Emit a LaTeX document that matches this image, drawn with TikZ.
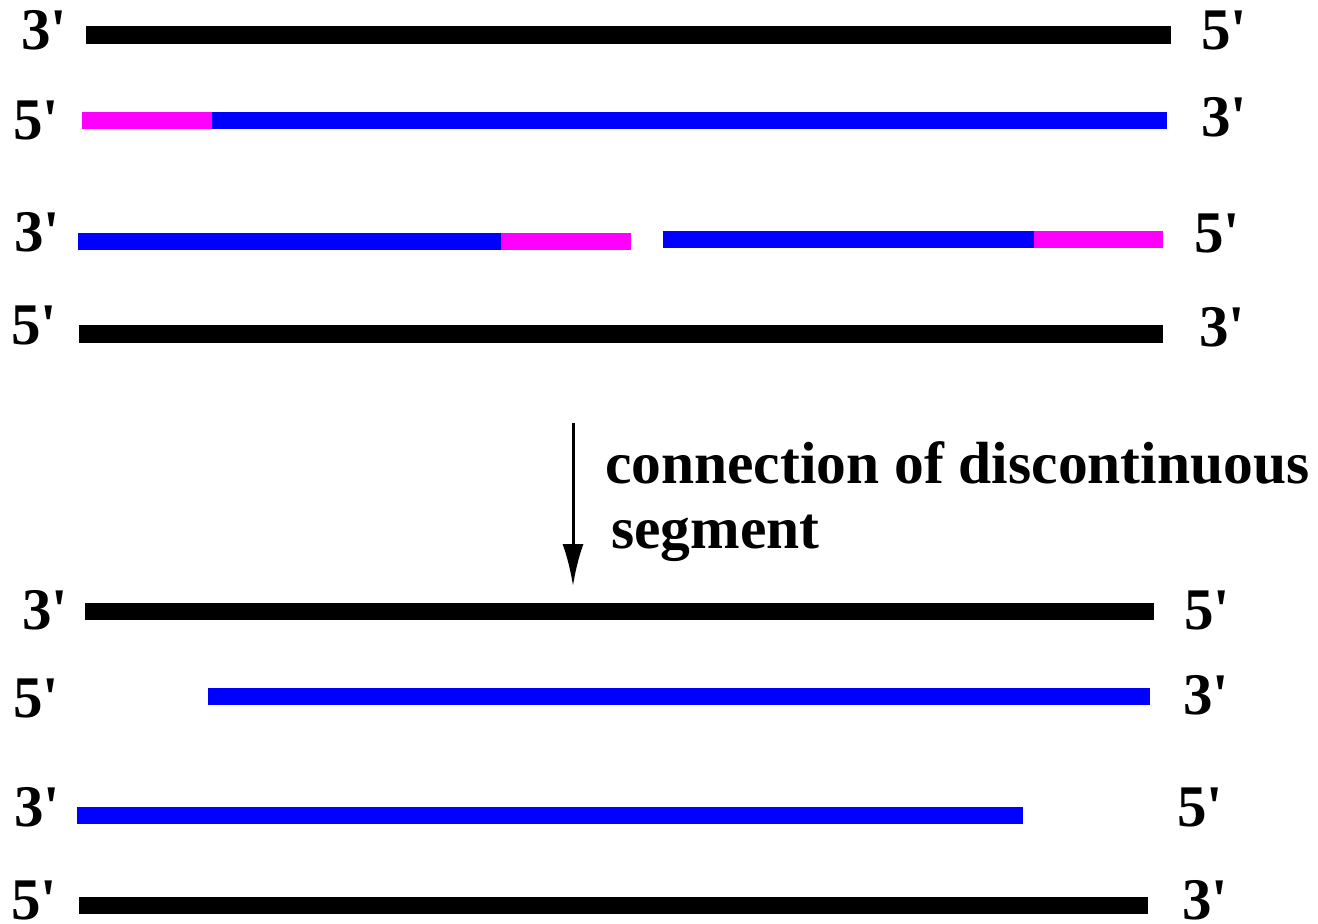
\documentclass[tikz,border=0pt]{standalone}
\usepackage{fontspec}
\setmainfont{Liberation Serif}[Ligatures=TeXOff]
\usetikzlibrary{arrows.meta}
\definecolor{mag}{RGB}{255,0,255}
\definecolor{blu}{RGB}{0,0,255}
\tikzset{
  strand/.style={line width=17.5pt, line cap=butt},
  lab/.style={anchor=base west, inner sep=0pt, font=\fontsize{59}{59}\selectfont\bfseries},
  note/.style={anchor=base west, inner sep=0pt, font=\fontsize{59.5}{59.5}\selectfont\bfseries},
  flow/.style={line width=3pt, -{Latex[length=42pt,width=21pt]}}
}
\begin{document}
\begin{tikzpicture}[x=1pt,y=-1pt]
\useasboundingbox (0,0) rectangle (1318,924);
% top duplex
\draw[strand,black] (86,35) -- (1171,35);
\draw[strand,mag] (82,120.5) -- (212,120.5);
\draw[strand,blu] (212,120.5) -- (1167,120.5);
\draw[strand,blu] (78,241.5) -- (501,241.5);
\draw[strand,mag] (501,241.5) -- (631,241.5);
\draw[strand,blu] (663,239.5) -- (1034,239.5);
\draw[strand,mag] (1034,239.5) -- (1163,239.5);
\draw[strand,black] (79,334) -- (1163,334);
% labels
\node[lab] (l1) at (21,49) {3'};
\node[lab] (r1) at (1201,49) {5'};
\node[lab] (l2) at (13,139) {5'};
\node[lab] (r2) at (1201,136) {3'};
\node[lab] (l3) at (14,251) {3'};
\node[lab] (r3) at (1194,252) {5'};
\node[lab] (l4) at (11,344) {5'};
\node[lab] (r4) at (1199,346) {3'};
% arrow and note
\coordinate (a0) at (573,423);
\coordinate (a1) at (573,586);
\draw[flow] (a0) -- (a1);
\node[note] (t1) at (605,483) {connection of discontinuous};
\node[note] (t2) at (611,548) {segment};
% bottom duplex
\draw[strand,black] (85,611.5) -- (1154,611.5);
\draw[strand,blu] (208,696.5) -- (1150,696.5);
\draw[strand,blu] (77,815.5) -- (1023,815.5);
\draw[strand,black] (79,905.5) -- (1148,905.5);
\node[lab] (l5) at (22,629) {3'};
\node[lab] (r5) at (1184,629) {5'};
\node[lab] (l6) at (13,717) {5'};
\node[lab] (r6) at (1183,714) {3'};
\node[lab] (l7) at (14,826) {3'};
\node[lab] (r7) at (1177,826) {5'};
\node[lab] (l8) at (11,919) {5'};
\node[lab] (r8) at (1182,919) {3'};
\end{tikzpicture}
\end{document}
